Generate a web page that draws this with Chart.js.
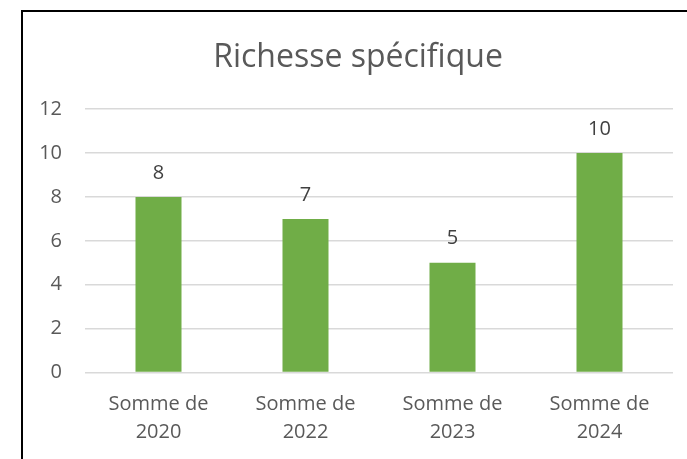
<!DOCTYPE html>
<html>
<head>
<meta charset="utf-8">
<script src="https://cdn.jsdelivr.net/npm/chart.js@4/dist/chart.umd.min.js"></script>
<style>
    html, body { margin: 0; padding: 0; background: #fff; }
    #wrap { position: relative; width: 687px; height: 459px; overflow: hidden; }
    #frame {
        position: absolute; left: 21px; top: 10px; width: 700px; height: 500px;
        border-left: 2px solid #000; border-top: 2px solid #000;
    }
    #chart { position: absolute; left: 0; top: 0; }
</style>
</head>
<body>
<div id="wrap">
    <div id="frame"></div>
    <canvas id="chart" width="687" height="459"></canvas>
</div>
<script>
// chart data
const titleText = 'Richesse spécifique';
const categories = [['Somme de', '2020'], ['Somme de', '2022'], ['Somme de', '2023'], ['Somme de', '2024']];
const values = [8, 7, 5, 10];
const yTicks = [0, 2, 4, 6, 8, 10, 12];

const textColor = '#595959';
const fontFamily = '"Open Sans", "Noto Sans", sans-serif';

// value labels above the bars, plus the title centred on the whole frame
const barLabels = {
    id: 'barLabels',
    afterDatasetsDraw(chart) {
        const ctx = chart.ctx;
        const meta = chart.getDatasetMeta(0);
        ctx.save();
        ctx.font = '20px ' + fontFamily;
        ctx.fillStyle = '#404040';
        ctx.textAlign = 'center';
        ctx.textBaseline = 'middle';
        meta.data.forEach((bar, i) => {
            ctx.fillText(String(values[i]), bar.x, bar.y - 24);
        });

        ctx.font = '32px ' + fontFamily;
        ctx.fillStyle = textColor;
        ctx.textBaseline = 'alphabetic';
        ctx.fillText(titleText, 358, 67);
        ctx.restore();
    }
};

new Chart(document.getElementById('chart'), {
    type: 'bar',
    data: {
        labels: categories,
        datasets: [{
            data: values,
            backgroundColor: '#70AD47',
            barPercentage: 0.313,
            categoryPercentage: 1
        }]
    },
    options: {
        responsive: false,
        animation: false,
        layout: { padding: { left: 0, right: 14, top: 0, bottom: 0 } },
        plugins: {
            legend: { display: false },
            tooltip: { enabled: false },
            // kept only to reserve the space; the text is drawn by barLabels
            title: {
                display: true,
                text: titleText,
                color: 'rgba(0,0,0,0)',
                font: { family: fontFamily, size: 31, weight: 'normal', lineHeight: 1.2 },
                padding: { top: 36, bottom: 36 }
            }
        },
        scales: {
            x: {
                grid: { display: false, drawTicks: false },
                border: { display: false },
                ticks: {
                    color: textColor,
                    padding: 18,
                    maxRotation: 0,
                    autoSkip: false,
                    font: { family: fontFamily, size: 20, lineHeight: 1.4 }
                },
                afterFit(scale) { scale.height = 86.5; }
            },
            y: {
                min: 0,
                max: 12,
                afterBuildTicks(scale) { scale.ticks = yTicks.map(v => ({ value: v })); },
                grid: { color: '#d9d9d9', lineWidth: 1.5, drawTicks: false },
                border: { display: false },
                ticks: {
                    color: textColor,
                    padding: 23,
                    font: { family: fontFamily, size: 20 }
                },
                afterFit(scale) { scale.width = 85; }
            }
        }
    },
    plugins: [barLabels]
});
</script>
</body>
</html>
